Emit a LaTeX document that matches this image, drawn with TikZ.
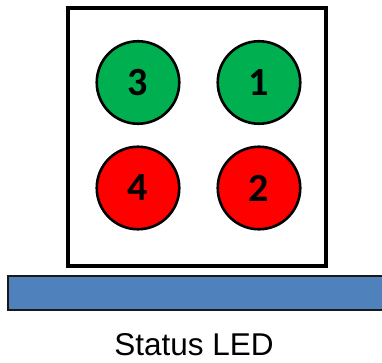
\documentclass[tikz,border=0pt]{standalone}
\usepackage{fontspec}
\setmainfont{Liberation Sans}
\newfontfamily\digitfont{Carlito}
\definecolor{ledgreen}{HTML}{00B050}
\definecolor{ledred}{HTML}{FF0000}
\definecolor{barblue}{HTML}{4F81BD}
\begin{document}
\begin{tikzpicture}[x=1pt,y=-1pt,
  led/.style={circle,draw=black,line width=2.6pt,minimum size=82.5pt,inner sep=0pt,
    font=\digitfont\bfseries\fontsize{40}{40}\selectfont},
  greenled/.style={led,fill=ledgreen},
  redled/.style={led,fill=ledred}]
\useasboundingbox (0,0) rectangle (382,363);
\clip (0,0) rectangle (382,363);
\draw[line width=3.6pt,fill=white] (68.2,8) rectangle (326,266);
\node[greenled] (l3) at (138,82.5) {3};
\node[greenled] (l1) at (259,82.5) {1};
\node[redled] (l4) at (138,188) {4};
\node[redled] (l2) at (259,188) {2};
\draw[line width=2pt,fill=barblue,draw=black!90] (7.8,275.5) rectangle (395,310);
\node[font=\fontsize{31.5}{31.5}\selectfont,anchor=base] (cap) at (194,355.7) {Status LED};
\end{tikzpicture}
\end{document}
